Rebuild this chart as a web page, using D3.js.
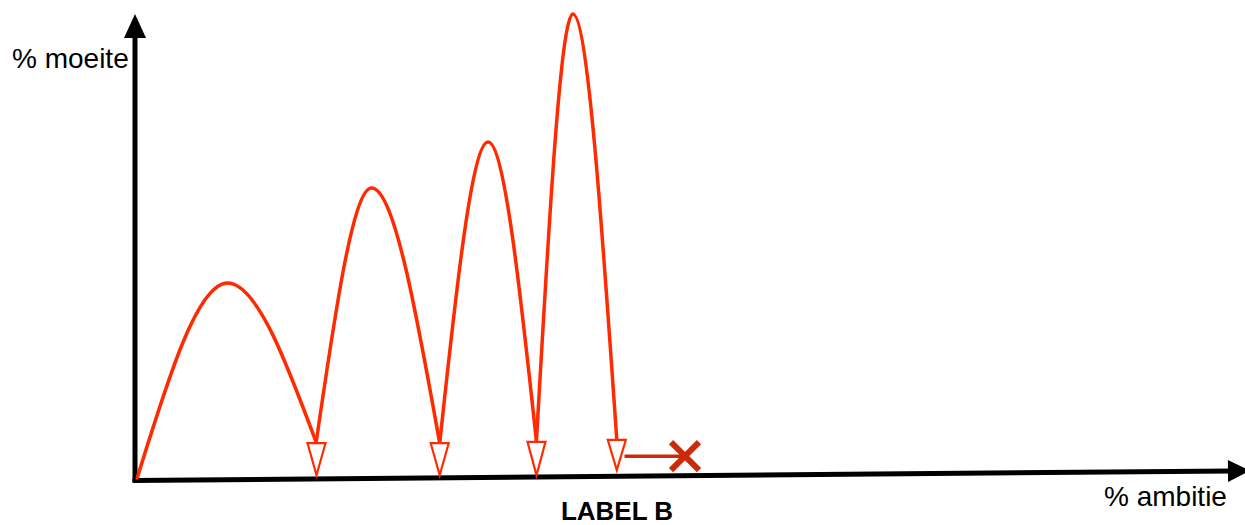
<!DOCTYPE html>
<html>
<head>
<meta charset="utf-8">
<script src="https://cdn.jsdelivr.net/npm/d3@7"></script>
<style>
  html, body { margin: 0; padding: 0; background: #fff; }
  svg { display: block; }
</style>
</head>
<body>
<svg id="chart" width="1245" height="525"></svg>
<script>
// ---- data (ambitie on x, moeite on y, both 0..100) ----
const axisLabels = { y: "% moeite", x: "% ambitie", bottom: "LABEL B" };

// each jump: take-off point, peak, landing point (top of arrowhead)
const jump1 = [[0.2, 0], [8.4, 42.0], [16.5, 7.5]];
const jump2 = [[16.5, 8.2], [21.5, 62.5], [27.7, 7.5]];
const jump3 = [[27.7, 7.5], [32.1, 72.4], [36.5, 7.8]];
const jump4 = [[36.5, 8.2], [39.8, 100], [43.8, 8.2]];
const jumps = [jump1, jump2, jump3, jump4];
const arrowTipY = [0.6, 0.6, 0.6, 1.7];

const stopLine = [[44.5, 4.7], [50.0, 4.7]];
const stopMark = [50.0, 4.7];

// ---- layout ----
const svg = d3.select("#chart");
const x = d3.scaleLinear().domain([0, 100]).range([135, 1235]);
const y = d3.scaleLinear().domain([0, 100]).range([478, 14]);

const red = "#ff2a00";
const darkRed = "#cc2a0a";
const font = "Liberation Sans, Arial, Helvetica, sans-serif";

// axes
const axes = svg.append("g");
axes.append("line")
  .attr("x1", x(0)).attr("x2", x(0))
  .attr("y1", y(0) + 4).attr("y2", 36)
  .attr("stroke", "#000").attr("stroke-width", 5);
axes.append("path")
  .attr("d", `M${x(0)},14 L${x(0) - 11},38 L${x(0) + 11},38 Z`)
  .attr("fill", "#000");

const xa = axes.append("g").attr("transform", `rotate(-0.5, ${x(0)}, ${y(0) + 2.5})`);
xa.append("line")
  .attr("x1", x(0) - 2.5).attr("x2", 1232)
  .attr("y1", y(0) + 2.5).attr("y2", y(0) + 2.5)
  .attr("stroke", "#000").attr("stroke-width", 5);
xa.append("path")
  .attr("d", `M1250,${y(0) + 2.5} L1228,${y(0) - 8.5} L1228,${y(0) + 13.5} Z`)
  .attr("fill", "#000");

// labels
svg.append("text").attr("x", 12).attr("y", 68)
  .attr("font-family", font).attr("font-size", 28)
  .text(axisLabels.y);
svg.append("text").attr("x", 1104).attr("y", 506)
  .attr("font-family", font).attr("font-size", 28)
  .text(axisLabels.x);
svg.append("text").attr("x", 617).attr("y", 520).attr("text-anchor", "middle")
  .attr("font-family", font).attr("font-size", 26)
  .attr("font-weight", "bold")
  .text(axisLabels.bottom);

// jumps
const line = d3.line().x(d => x(d[0])).y(d => y(d[1])).curve(d3.curveMonotoneX);
const g = svg.append("g");
g.selectAll("path.jump").data(jumps).join("path")
  .attr("class", "jump")
  .attr("d", line)
  .attr("fill", "none")
  .attr("stroke", red)
  .attr("stroke-width", 3.5)
  .attr("stroke-linecap", "round");

// open arrowheads
g.selectAll("path.head").data(jumps).join("path")
  .attr("class", "head")
  .attr("d", (d, i) => {
    const end = d[d.length - 1];
    const cx = x(end[0]), top = y(end[1]), tip = y(arrowTipY[i]);
    return `M${cx - 9},${top} L${cx + 9},${top} L${cx},${tip} Z`;
  })
  .attr("fill", "#fff")
  .attr("stroke", red)
  .attr("stroke-width", 2.2)
  .attr("stroke-linejoin", "miter");

// stop line + cross
svg.append("line")
  .attr("x1", x(stopLine[0][0])).attr("y1", y(stopLine[0][1]))
  .attr("x2", x(stopLine[1][0])).attr("y2", y(stopLine[1][1]))
  .attr("stroke", darkRed).attr("stroke-width", 3.5);
const cx = x(stopMark[0]), cy = y(stopMark[1]), s = 14;
svg.append("path")
  .attr("d", `M${cx - s},${cy - s} L${cx + s},${cy + s} M${cx - s},${cy + s} L${cx + s},${cy - s}`)
  .attr("stroke", darkRed).attr("stroke-width", 6).attr("fill", "none");
</script>
</body>
</html>
